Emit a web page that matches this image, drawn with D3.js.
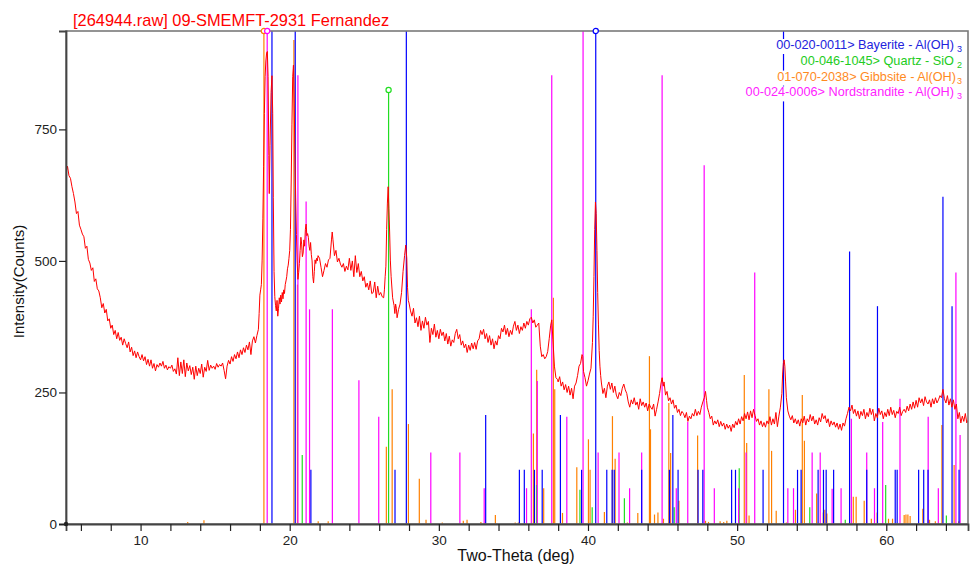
<!DOCTYPE html>
<html>
<head>
<meta charset="utf-8">
<script src="https://cdn.jsdelivr.net/npm/d3@7"></script>
<style>
    body { margin: 0; background: #fff; }
    svg { display: block; font-family: "Liberation Sans", Arial, sans-serif; }
</style>
</head>
<body>
<script>
"use strict";

// measured scan: [2-theta (deg), intensity (counts)]
const scan = [
    [5.0, 668], [5.1, 680], [5.2, 662], [5.3, 657], [5.4, 641], [5.5, 628], [5.6, 612], [5.7, 590], [5.8, 594], [5.9, 568],
    [6.0, 560], [6.1, 551], [6.2, 546], [6.3, 524], [6.4, 528], [6.5, 503], [6.6, 496], [6.7, 482], [6.8, 487], [6.9, 461],
    [7.0, 466], [7.1, 447], [7.2, 443], [7.3, 430], [7.4, 411], [7.5, 419], [7.6, 401], [7.7, 408], [7.8, 386], [7.9, 390],
    [8.0, 372], [8.1, 378], [8.2, 360], [8.3, 368], [8.4, 352], [8.5, 364], [8.6, 349], [8.7, 355], [8.8, 340], [8.9, 352],
    [9.0, 343], [9.1, 335], [9.2, 346], [9.3, 327], [9.4, 336], [9.5, 320], [9.6, 329], [9.7, 316], [9.8, 327], [9.9, 318],
    [10.0, 312], [10.1, 322], [10.2, 310], [10.3, 318], [10.4, 303], [10.5, 313], [10.6, 300], [10.7, 312], [10.8, 296], [10.9, 305],
    [11.0, 291], [11.1, 303], [11.2, 298], [11.3, 306], [11.4, 300], [11.5, 309], [11.6, 296], [11.7, 302], [11.8, 293], [11.9, 299],
    [12.0, 296], [12.1, 302], [12.2, 290], [12.3, 295], [12.4, 285], [12.5, 316], [12.6, 282], [12.7, 308], [12.8, 286], [12.9, 312],
    [13.0, 280], [13.1, 306], [13.2, 291], [13.3, 301], [13.4, 284], [13.5, 298], [13.6, 275], [13.7, 300], [13.8, 282], [13.9, 296],
    [14.0, 286], [14.1, 304], [14.2, 279], [14.3, 298], [14.4, 290], [14.5, 311], [14.6, 292], [14.7, 302], [14.8, 296], [14.9, 300],
    [15.0, 294], [15.1, 305], [15.2, 298], [15.3, 303], [15.4, 300], [15.5, 306], [15.6, 292], [15.7, 276], [15.8, 300], [15.9, 311],
    [16.0, 304], [16.1, 318], [16.2, 309], [16.3, 322], [16.4, 314], [16.5, 327], [16.6, 316], [16.7, 331], [16.8, 322], [16.9, 335],
    [17.0, 326], [17.1, 340], [17.2, 331], [17.3, 346], [17.4, 322], [17.5, 348], [17.6, 356], [17.7, 344], [17.8, 358], [17.9, 370],
    [17.95, 400], [18.0, 435], [18.05, 445], [18.1, 455], [18.15, 500], [18.2, 580], [18.25, 680], [18.3, 780], [18.35, 850], [18.4, 880],
    [18.45, 895], [18.5, 898], [18.55, 850], [18.6, 700], [18.63, 628], [18.68, 720], [18.75, 820], [18.81, 852], [18.86, 780], [18.9, 620],
    [18.95, 480], [19.0, 432], [19.05, 415], [19.1, 405], [19.15, 425], [19.2, 395], [19.25, 410], [19.3, 430], [19.35, 418], [19.4, 435],
    [19.45, 422], [19.5, 440], [19.55, 428], [19.6, 445], [19.65, 438], [19.7, 455], [19.75, 462], [19.8, 470], [19.85, 485], [19.9, 492],
    [19.95, 505], [20.0, 520], [20.05, 560], [20.1, 650], [20.15, 760], [20.2, 850], [20.25, 872], [20.3, 800], [20.35, 705], [20.4, 620],
    [20.45, 550], [20.5, 500], [20.55, 465], [20.6, 478], [20.65, 495], [20.7, 520], [20.75, 545], [20.8, 532], [20.85, 508], [20.9, 515],
    [20.95, 540], [21.0, 528], [21.05, 560], [21.1, 570], [21.15, 548], [21.2, 552], [21.25, 545], [21.3, 528], [21.35, 520], [21.4, 535],
    [21.45, 512], [21.5, 500], [21.55, 470], [21.6, 458], [21.65, 480], [21.7, 502], [21.75, 495], [21.8, 505], [21.85, 500], [21.9, 510],
    [22.0, 505], [22.1, 488], [22.2, 470], [22.3, 482], [22.4, 495], [22.5, 488], [22.6, 502], [22.7, 505], [22.8, 540], [22.85, 555],
    [22.9, 540], [23.0, 510], [23.1, 520], [23.2, 498], [23.3, 505], [23.4, 494], [23.5, 488], [23.6, 495], [23.7, 480], [23.8, 490],
    [23.9, 483], [24.0, 505], [24.1, 482], [24.2, 500], [24.3, 470], [24.4, 510], [24.5, 478], [24.6, 495], [24.7, 470], [24.8, 480],
    [24.9, 462], [25.0, 470], [25.1, 450], [25.2, 458], [25.3, 445], [25.4, 462], [25.5, 438], [25.6, 440], [25.7, 460], [25.8, 430],
    [25.9, 452], [26.0, 435], [26.1, 440], [26.2, 432], [26.3, 430], [26.35, 445], [26.4, 470], [26.45, 490], [26.5, 560], [26.55, 610],
    [26.6, 641], [26.65, 600], [26.7, 555], [26.75, 500], [26.8, 470], [26.9, 430], [27.0, 415], [27.05, 400], [27.1, 418], [27.15, 410],
    [27.2, 392], [27.3, 408], [27.4, 418], [27.5, 440], [27.6, 480], [27.7, 510], [27.78, 530], [27.85, 505], [27.9, 450], [27.95, 425],
    [28.0, 420], [28.1, 405], [28.2, 395], [28.3, 410], [28.4, 382], [28.5, 392], [28.6, 375], [28.7, 395], [28.8, 368], [28.9, 386],
    [29.0, 372], [29.1, 393], [29.2, 378], [29.3, 385], [29.4, 345], [29.5, 372], [29.6, 360], [29.7, 380], [29.8, 355], [29.9, 368],
    [30.0, 352], [30.1, 370], [30.2, 358], [30.3, 365], [30.4, 348], [30.5, 362], [30.6, 342], [30.7, 357], [30.8, 338], [30.9, 350],
    [31.0, 345], [31.1, 362], [31.2, 370], [31.3, 352], [31.4, 360], [31.5, 340], [31.6, 348], [31.7, 335], [31.8, 342], [31.9, 326],
    [32.0, 340], [32.1, 330], [32.2, 344], [32.3, 333], [32.4, 345], [32.5, 332], [32.6, 348], [32.7, 352], [32.8, 368], [32.9, 360],
    [33.0, 370], [33.1, 352], [33.2, 362], [33.3, 345], [33.4, 358], [33.5, 340], [33.6, 352], [33.7, 333], [33.8, 348], [33.9, 340],
    [34.0, 358], [34.1, 352], [34.2, 372], [34.3, 365], [34.4, 378], [34.5, 360], [34.6, 372], [34.7, 356], [34.8, 368], [34.9, 360],
    [35.0, 376], [35.1, 385], [35.2, 368], [35.3, 378], [35.4, 362], [35.5, 375], [35.6, 368], [35.7, 382], [35.8, 372], [35.9, 385],
    [36.0, 378], [36.1, 390], [36.2, 393], [36.3, 382], [36.4, 388], [36.5, 374], [36.6, 378], [36.7, 382], [36.8, 338], [36.9, 318],
    [37.0, 322], [37.1, 314], [37.2, 318], [37.3, 328], [37.4, 352], [37.5, 378], [37.57, 388], [37.65, 350], [37.75, 300], [37.85, 278],
    [37.95, 275], [38.0, 270], [38.1, 280], [38.2, 262], [38.3, 270], [38.4, 255], [38.5, 265], [38.6, 250], [38.7, 262], [38.8, 245],
    [38.9, 258], [39.0, 238], [39.1, 262], [39.2, 268], [39.3, 282], [39.4, 300], [39.5, 305], [39.6, 322], [39.65, 318], [39.7, 290],
    [39.8, 278], [39.9, 262], [40.0, 272], [40.1, 285], [40.2, 296], [40.3, 345], [40.35, 395], [40.4, 470], [40.45, 560], [40.5, 612],
    [40.55, 590], [40.6, 520], [40.65, 440], [40.7, 380], [40.75, 330], [40.8, 300], [40.85, 282], [40.9, 268], [41.0, 248], [41.1, 258],
    [41.2, 240], [41.3, 262], [41.4, 270], [41.5, 256], [41.6, 268], [41.7, 250], [41.8, 262], [41.9, 245], [42.0, 238], [42.1, 250],
    [42.2, 244], [42.3, 258], [42.4, 266], [42.5, 255], [42.6, 248], [42.7, 232], [42.8, 222], [42.9, 236], [43.0, 228], [43.1, 240],
    [43.2, 226], [43.3, 232], [43.4, 218], [43.5, 238], [43.6, 225], [43.7, 232], [43.8, 222], [43.9, 230], [44.0, 215], [44.1, 228],
    [44.2, 222], [44.3, 218], [44.4, 228], [44.5, 205], [44.6, 218], [44.7, 232], [44.8, 248], [44.9, 268], [44.97, 278], [45.05, 262],
    [45.1, 270], [45.2, 245], [45.3, 252], [45.4, 234], [45.5, 240], [45.6, 228], [45.7, 236], [45.8, 220], [45.9, 226], [46.0, 212],
    [46.1, 218], [46.2, 206], [46.3, 214], [46.4, 210], [46.5, 202], [46.6, 212], [46.7, 195], [46.8, 205], [46.9, 200], [47.0, 210],
    [47.1, 205], [47.2, 218], [47.3, 206], [47.4, 214], [47.5, 208], [47.6, 222], [47.7, 232], [47.8, 240], [47.88, 252], [47.95, 235],
    [48.0, 222], [48.1, 212], [48.2, 200], [48.3, 205], [48.4, 188], [48.5, 196], [48.6, 190], [48.7, 198], [48.8, 185], [48.9, 195],
    [49.0, 186], [49.1, 192], [49.2, 180], [49.3, 190], [49.4, 182], [49.5, 188], [49.6, 176], [49.7, 190], [49.8, 183], [49.9, 195],
    [50.0, 188], [50.1, 200], [50.2, 190], [50.3, 204], [50.4, 196], [50.5, 210], [50.6, 200], [50.7, 213], [50.8, 198], [50.9, 215],
    [51.0, 202], [51.1, 218], [51.2, 206], [51.3, 195], [51.4, 200], [51.5, 188], [51.6, 196], [51.7, 185], [51.8, 193], [51.9, 184],
    [52.0, 196], [52.1, 190], [52.2, 204], [52.3, 188], [52.4, 200], [52.5, 190], [52.6, 212], [52.7, 185], [52.8, 205], [52.9, 222],
    [53.0, 248], [53.05, 285], [53.1, 305], [53.15, 312], [53.2, 300], [53.25, 270], [53.3, 240], [53.4, 215], [53.5, 205], [53.6, 198],
    [53.7, 206], [53.8, 192], [53.9, 200], [54.0, 190], [54.1, 198], [54.2, 186], [54.3, 200], [54.4, 192], [54.5, 205], [54.6, 188],
    [54.7, 200], [54.8, 194], [54.9, 208], [55.0, 196], [55.1, 205], [55.2, 190], [55.3, 198], [55.4, 188], [55.5, 202], [55.6, 194],
    [55.7, 210], [55.8, 200], [55.9, 206], [56.0, 192], [56.1, 200], [56.2, 185], [56.3, 196], [56.4, 188], [56.5, 194], [56.6, 184],
    [56.7, 192], [56.8, 180], [56.9, 190], [57.0, 178], [57.1, 192], [57.2, 186], [57.3, 200], [57.4, 210], [57.5, 222], [57.6, 215],
    [57.7, 226], [57.8, 210], [57.9, 218], [58.0, 205], [58.1, 215], [58.2, 200], [58.3, 214], [58.4, 206], [58.5, 218], [58.6, 200],
    [58.7, 212], [58.8, 204], [58.9, 220], [59.0, 208], [59.1, 218], [59.2, 196], [59.3, 210], [59.4, 202], [59.5, 220], [59.6, 208],
    [59.7, 215], [59.8, 200], [59.9, 212], [60.0, 204], [60.1, 218], [60.2, 206], [60.3, 222], [60.4, 208], [60.5, 216], [60.6, 202],
    [60.7, 214], [60.8, 210], [60.9, 222], [61.0, 206], [61.1, 214], [61.2, 218], [61.3, 212], [61.4, 224], [61.5, 215], [61.6, 228],
    [61.7, 218], [61.8, 232], [61.9, 220], [62.0, 235], [62.1, 222], [62.2, 240], [62.3, 230], [62.4, 238], [62.5, 225], [62.6, 242],
    [62.7, 232], [62.8, 228], [62.9, 236], [63.0, 222], [63.1, 238], [63.2, 228], [63.3, 240], [63.4, 230], [63.5, 236], [63.6, 244],
    [63.7, 240], [63.8, 256], [63.9, 238], [64.0, 230], [64.1, 244], [64.2, 226], [64.3, 238], [64.4, 222], [64.5, 236], [64.6, 218],
    [64.7, 228], [64.8, 200], [64.9, 212], [65.0, 192], [65.1, 205], [65.2, 195], [65.3, 210], [65.4, 192], [65.5, 198]
];

// reference sticks: [2-theta, height in counts]; heights above the frame are clipped
const bayerite = [
    [18.81, 1200], [20.37, 1200], [21.42, 103], [27.06, 103], [27.82, 1200], [33.14, 207], [35.40, 103], [35.73, 103],
    [36.41, 103], [36.93, 103], [38.15, 207], [39.57, 103], [40.52, 1200], [41.26, 103], [41.62, 103], [41.76, 103],
    [43.60, 103], [45.46, 103], [45.69, 207], [46.04, 103], [47.38, 103], [47.70, 103], [49.63, 103], [49.89, 103],
    [51.74, 103], [53.11, 1200], [54.05, 103], [54.29, 103], [55.43, 103], [55.79, 103], [55.97, 103], [56.47, 103],
    [57.54, 518], [58.69, 103], [59.41, 414], [60.60, 103], [60.73, 103], [62.17, 103], [62.51, 103], [62.80, 103],
    [63.80, 622], [64.41, 414], [64.88, 103]
];
const quartz = [
    [20.84, 131], [26.63, 825], [36.55, 74], [39.46, 65], [40.28, 32], [42.44, 49], [45.78, 32], [50.14, 106],
    [54.87, 32], [57.25, 8], [59.96, 74], [64.03, 16]
];
const gibbsite = [
    [13.16, 4], [14.25, 7], [18.27, 1200], [20.28, 920], [20.52, 455], [21.91, 5], [22.58, 5], [26.48, 147],
    [26.87, 256], [27.96, 190], [28.69, 86], [29.14, 8], [30.23, 3], [31.64, 6], [31.89, 8], [32.82, 4],
    [33.79, 17], [35.12, 3], [35.33, 3], [36.34, 172], [36.56, 293], [37.03, 68], [37.68, 430], [37.77, 256],
    [38.29, 21], [39.25, 108], [40.03, 161], [40.14, 103], [41.10, 23], [41.64, 205], [41.82, 124], [42.64, 3],
    [43.34, 21], [44.12, 319], [44.19, 180], [44.46, 18], [44.69, 22], [45.06, 10], [45.42, 230], [45.54, 135],
    [46.10, 44], [47.35, 168], [47.88, 6], [48.08, 4], [48.86, 5], [49.10, 4], [49.31, 6], [50.48, 283],
    [50.64, 154], [50.80, 16], [52.13, 256], [52.31, 139], [52.62, 25], [53.30, 3], [53.91, 27], [54.37, 245],
    [54.51, 158], [55.33, 58], [55.78, 22], [55.88, 27], [56.02, 20], [57.79, 52], [57.98, 52], [58.52, 44],
    [59.00, 10], [59.39, 22], [60.15, 10], [60.42, 10], [61.20, 17], [61.32, 18], [61.45, 18], [61.60, 15],
    [62.45, 29], [62.90, 8], [63.29, 5], [63.73, 188], [64.55, 112], [64.86, 5]
];
const nordstrandite = [
    [18.49, 1200], [20.55, 853], [21.10, 613], [21.33, 408], [22.86, 408], [24.64, 273], [25.97, 204], [29.46, 136],
    [31.41, 136], [33.04, 68], [35.88, 68], [36.20, 408], [36.60, 272], [37.57, 853], [38.58, 204], [39.67, 1200],
    [40.68, 136], [42.08, 136], [42.79, 68], [43.60, 136], [44.97, 853], [45.48, 68], [45.92, 68], [46.69, 194],
    [47.79, 682], [48.47, 68], [50.10, 68], [50.60, 136], [51.18, 478], [53.40, 68], [53.78, 68], [55.03, 136],
    [55.57, 136], [56.37, 67], [56.97, 68], [57.66, 200], [58.69, 136], [59.21, 68], [59.76, 194], [60.92, 238],
    [62.81, 204], [63.49, 68], [64.67, 478], [64.95, 169]
];

// strongest line of each card, marked with a ring
const phases = [
    { sticks: bayerite,      color: "#0000ff", text: "#2222dd", name: "00-020-0011> Bayerite - Al(OH)", sub: "3", peak: 40.52 },
    { sticks: quartz,        color: "#22dd22", text: "#22cc22", name: "00-046-1045> Quartz - SiO",      sub: "2", peak: 26.63 },
    { sticks: gibbsite,      color: "#ff8000", text: "#ff8a1e", name: "01-070-2038> Gibbsite - Al(OH)", sub: "3", peak: 18.27 },
    { sticks: nordstrandite, color: "#ff00ff", text: "#ff22ff", name: "00-024-0006> Nordstrandite - Al(OH)", sub: "3", peak: 18.49 }
];
// draw order of the stick layers
const stickOrder = [2, 1, 3, 0];

const xDomain = [5, 65.48];
const yDomain = [0, 937];
const yTicks = [0, 250, 500, 750];
const xTicks = d3.range(6, 66, 2);
const title = "[264944.raw] 09-SMEMFT-2931 Fernandez";

const width = 977, height = 567;
const margin = { top: 31, right: 9, bottom: 43, left: 66 };
const plotW = width - margin.left - margin.right;
const plotH = height - margin.top - margin.bottom;

const svg = d3.select("body").append("svg")
              .attr("width", width)
              .attr("height", height);

const x = d3.scaleLinear().domain(xDomain).range([0, plotW]);
const y = d3.scaleLinear().domain(yDomain).range([plotH, 0]);

svg.append("defs").append("clipPath")
   .attr("id", "plotClip")
   .append("rect")
   .attr("width", plotW)
   .attr("height", plotH);

const g = svg.append("g")
             .attr("transform", `translate(${margin.left}, ${margin.top})`);

const plot = g.append("g").attr("clip-path", "url(#plotClip)");

stickOrder.forEach(i => {
    const p = phases[i];
    plot.append("g")
        .selectAll("line")
        .data(p.sticks)
        .join("line")
        .attr("x1", d => x(d[0]))
        .attr("x2", d => x(d[0]))
        .attr("y1", y(0))
        .attr("y2", d => y(d[1]))
        .attr("stroke", p.color)
        .attr("stroke-width", 1.2);
});

plot.append("path")
    .datum(scan)
    .attr("fill", "none")
    .attr("stroke", "#ff0000")
    .attr("stroke-width", 1)
    .attr("stroke-linejoin", "round")
    .attr("d", d3.line().x(d => x(d[0])).y(d => y(d[1])));

// frame
g.append("rect")
 .attr("width", plotW)
 .attr("height", plotH)
 .attr("fill", "none")
 .attr("stroke", "#7a7a7a")
 .attr("stroke-width", 1.6);

const xAxis = g.append("g")
               .attr("transform", `translate(0, ${plotH})`)
               .call(d3.axisBottom(x)
                       .tickValues(xTicks)
                       .tickSize(7)
                       .tickPadding(4)
                       .tickFormat(d => d % 10 === 0 ? d : ""));
const yAxis = g.append("g")
               .call(d3.axisLeft(y)
                       .tickValues(yTicks)
                       .tickSize(7)
                       .tickPadding(2));
[xAxis, yAxis].forEach(a => {
    a.select(".domain").attr("stroke", "#444").attr("stroke-width", 1.8);
    a.selectAll(".tick line").attr("stroke", "#222").attr("stroke-width", 1.2);
    a.selectAll(".tick text")
     .attr("fill", "#222")
     .style("font-size", "13.5px")
     .style("font-family", "\"Liberation Sans\", Arial, sans-serif");
});

g.append("circle")
 .attr("cx", x(xDomain[0]))
 .attr("cy", y(0))
 .attr("r", 2.2)
 .attr("fill", "#222");

// rings on the strongest lines
phases.forEach(p => {
    const top = p.sticks.find(d => d[0] === p.peak);
    g.append("circle")
     .attr("cx", x(top[0]))
     .attr("cy", y(Math.min(top[1], yDomain[1])))
     .attr("r", 2.6)
     .attr("fill", "#fff")
     .attr("stroke", p.color)
     .attr("stroke-width", 1.2);
});

// legend, right aligned, white behind each line
const legend = g.append("g");
phases.forEach((p, i) => {
    const row = legend.append("g");
    const t = row.append("text")
                 .attr("x", plotW - 6)
                 .attr("y", 18 + i * 15.8)
                 .attr("text-anchor", "end")
                 .attr("fill", p.text)
                 .style("font-size", "12.7px");
    t.append("tspan").text(p.name);
    t.append("tspan")
     .attr("dx", i === 2 ? 1 : 3)
     .attr("dy", 3)
     .style("font-size", "9px")
     .text(p.sub);
    const b = t.node().getBBox();
    row.insert("rect", "text")
       .attr("x", b.x - 1)
       .attr("y", b.y + 1)
       .attr("width", b.width + 2)
       .attr("height", b.height - 1)
       .attr("fill", "#fff");
});

svg.append("text")
   .attr("x", 73)
   .attr("y", 26)
   .attr("fill", "#ff0000")
   .style("font-size", "16.4px")
   .text(title);

svg.append("text")
   .attr("x", 516)
   .attr("y", 561)
   .attr("text-anchor", "middle")
   .attr("fill", "#111")
   .style("font-size", "16px")
   .text("Two-Theta (deg)");

svg.append("text")
   .attr("transform", `translate(24, ${margin.top + plotH / 2 + 4}) rotate(-90)`)
   .attr("text-anchor", "middle")
   .attr("fill", "#111")
   .style("font-size", "15px")
   .text("Intensity(Counts)");
</script>
</body>
</html>
